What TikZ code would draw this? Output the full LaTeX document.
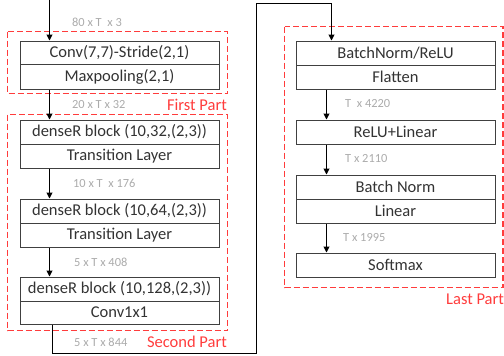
\documentclass[tikz,border=0pt]{standalone}
\usepackage{fontspec}
\setmainfont{Carlito}
\usetikzlibrary{arrows.meta}
\definecolor{boxline}{HTML}{404040}
\definecolor{boxtext}{HTML}{333333}
\definecolor{dimtext}{HTML}{ABABAB}
\definecolor{partred}{HTML}{FF3C3C}
\begin{document}
\begin{tikzpicture}[x=1pt,y=-1pt,
 layer/.style={draw=boxline, line width=1pt, text=boxtext, font=\fontsize{16.5}{18}\selectfont, inner sep=0pt, anchor=north west, minimum width=199pt},
 dim/.style={text=dimtext, font=\fontsize{12.4}{14}\selectfont, anchor=west, inner sep=0pt},
 part/.style={draw=partred, dash pattern=on 6pt off 3pt, line width=1.2pt},
 partlabel/.style={text=partred, font=\fontsize{16.5}{18}\selectfont, inner sep=0pt},
 flow/.style={draw=black, line width=1pt, -{Triangle[length=6pt,width=6pt]}}]
\useasboundingbox (0,0) rectangle (504,356);
% part frames
\draw[part] (7.5,31.5) rectangle (227.5,93.5);
\draw[part] (7.5,114.5) rectangle (227.5,330.5);
\draw[part] (284.5,26.5) rectangle (503,287.5);
% left column
\node[layer, minimum height=23pt] (conv) at (19.5,40.5) {Conv(7,7)-Stride(2,1)};
\node[layer, minimum height=25pt] (maxp) at (19.5,63.5) {Maxpooling(2,1)};
\node[layer, minimum height=24pt] (dense1) at (19.5,119.5) {denseR block (10,32,(2,3))};
\node[layer, minimum height=24pt] (trans1) at (19.5,143.5) {Transition Layer};
\node[layer, minimum height=24pt] (dense2) at (19.5,198.5) {denseR block (10,64,(2,3))};
\node[layer, minimum height=24pt] (trans2) at (19.5,222.5) {Transition Layer};
\node[layer, minimum height=24pt] (dense3) at (19.5,276.5) {denseR block (10,128,(2,3))};
\node[layer, minimum height=23pt] (convx) at (19.5,300.5) {Conv1x1};
% right column
\node[layer, minimum height=24pt] (bnrelu) at (295.5,40.5) {BatchNorm/ReLU};
\node[layer, minimum height=24pt] (flat) at (295.5,64.5) {Flatten};
\node[layer, minimum height=24pt] (relulin) at (295.5,119.5) {ReLU+Linear};
\node[layer, minimum height=24pt] (bn) at (295.5,174.5) {Batch Norm};
\node[layer, minimum height=24pt] (lin) at (295.5,198.5) {Linear};
\node[layer, minimum height=24pt] (soft) at (295.5,252.5) {Softmax};
% dimension labels
\node[dim] (d1) at (72,22) {80 x T~ x 3};
\node[dim] (d2) at (72,105) {20 x T x 32};
\node[dim] (d3) at (73,183) {10 x T~ x 176};
\node[dim] (d4) at (74,262) {5 x T x 408};
\node[dim] (d5) at (74,342) {5 x T x 844};
\node[dim] (d6) at (345,104) {T~ x 4220};
\node[dim] (d7) at (345,159) {T x 2110};
\node[dim] (d8) at (343,238) {T x 1995};
% part labels
\node[partlabel, anchor=east] (p1) at (227,105) {First Part};
\node[partlabel, anchor=east] (p2) at (227,342) {Second Part};
\node[partlabel, anchor=west] (p3) at (446,299) {Last Part};
% connectors
\coordinate (in) at (49.5,0);
\draw[flow] (in) -- (in |- conv.north);
\draw[flow] (maxp.south -| in) -- (dense1.north -| in);
\draw[flow] (trans1.south -| in) -- (dense2.north -| in);
\draw[flow] (trans2.south -| in) -- (dense3.north -| in);
\coordinate (c1) at (52.5,353.5);
\coordinate (c2) at (256.5,353.5);
\coordinate (c3) at (256.5,3.5);
\coordinate (c4) at (331.5,3.5);
\draw[flow] (convx.south -| c1) -- (c1) -- (c2) -- (c3) -- (c4) -- (c4 |- bnrelu.north);
\coordinate (rc) at (326.5,0);
\draw[flow] (flat.south -| rc) -- (relulin.north -| rc);
\draw[flow] (relulin.south -| rc) -- (bn.north -| rc);
\draw[flow] (lin.south -| rc) -- (soft.north -| rc);
\end{tikzpicture}
\end{document}
